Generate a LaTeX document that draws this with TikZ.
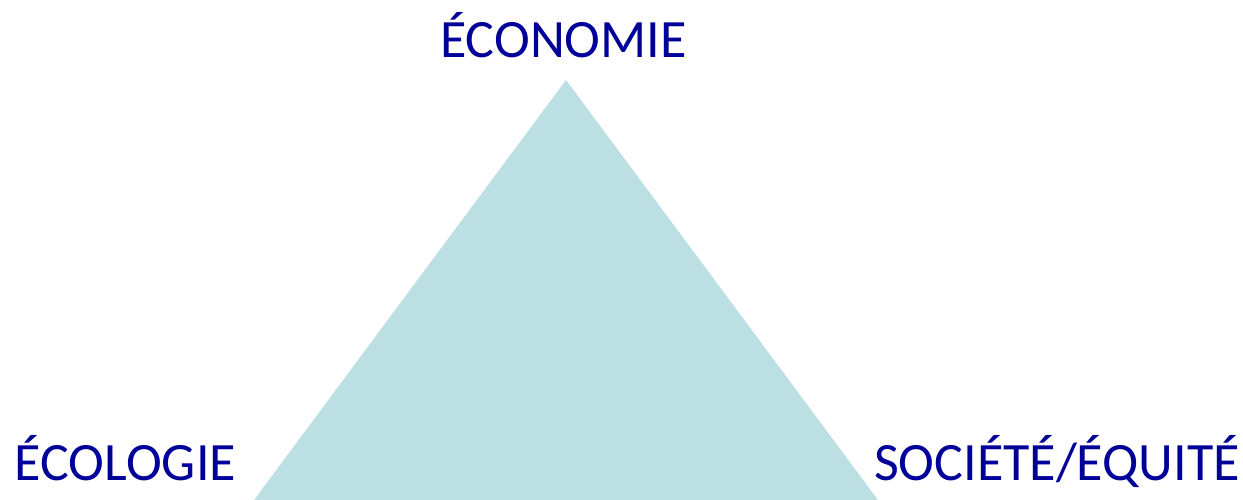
\documentclass[tikz,border=0pt]{standalone}
\usepackage{fontspec}
\setmainfont{Carlito}
\definecolor{tri}{HTML}{BBDFE2}
\definecolor{lbl}{HTML}{000099}
\begin{document}
\begin{tikzpicture}[x=1pt,y=1pt,
  lab/.style={inner sep=0pt,anchor=base,text=lbl,font=\fontsize{54}{60}\selectfont}]
\useasboundingbox (0,0) rectangle (1243,500);
\coordinate (top) at (566,420);
\coordinate (bl) at (254,0);
\coordinate (br) at (878,0);
\fill[tri] (top) -- (bl) -- (br) -- cycle;
\node[lab] (eco) at (563.5,442) {ÉCONOMIE};
\node[lab] (ecol) at (125.5,19) {ÉCOLOGIE};
\node[lab] (soc) at (1057,19) {SOCIÉTÉ/ÉQUITÉ};
\end{tikzpicture}
\end{document}
